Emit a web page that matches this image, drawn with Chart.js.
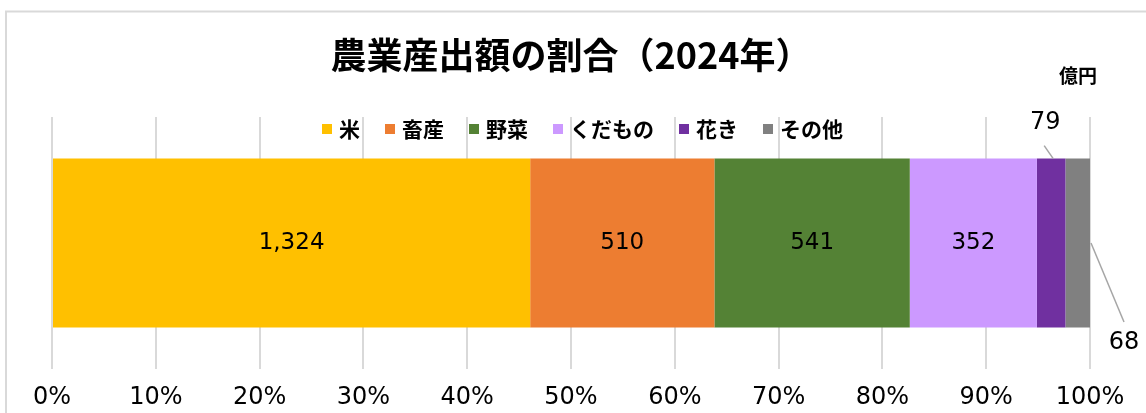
<!DOCTYPE html>
<html><head><meta charset="utf-8">
<script src="https://cdn.jsdelivr.net/npm/chart.js@4.4.1/dist/chart.umd.min.js"></script>
<style>html,body{margin:0;padding:0;background:#fff;overflow:hidden}#wrap{width:1146px;height:413px}</style>
</head><body><div id="wrap"><canvas id="c" width="1146" height="413"></canvas></div>
<script>
const categories = ['米', '畜産', '野菜', 'くだもの', '花き', 'その他'];
const values = [1324, 510, 541, 352, 79, 68];
const colors = ['#FFC000', '#ED7D31', '#548235', '#CC99FF', '#7030A0', '#808080'];
const tickValues = [0, 10, 20, 30, 40, 50, 60, 70, 80, 90, 100];
const titleText = '農業産出額の割合（2024年）';
const unitText = '億円';

const total = values.reduce((a, b) => a + b, 0);
const JP = '"Noto Sans CJK JP", "Noto Sans", sans-serif';
const NUM = '"DejaVu Sans", sans-serif';

const framePlugin = {
  id: 'frame',
  beforeDraw(chart) {
    const ctx = chart.ctx;
    ctx.save();
    ctx.fillStyle = '#fff';
    ctx.fillRect(0, 0, chart.width, chart.height);
    ctx.strokeStyle = '#d9d9d9';
    ctx.lineWidth = 2;
    ctx.beginPath();
    ctx.moveTo(6, chart.height);
    ctx.lineTo(6, 11.5);
    ctx.lineTo(chart.width, 11.5);
    ctx.stroke();
    ctx.restore();
  }
};

const labelPlugin = {
  id: 'labels',
  afterDraw(chart) {
    const ctx = chart.ctx;
    ctx.save();
    chart.data.datasets.forEach((ds, i) => {
      const bar = chart.getDatasetMeta(i).data[0];
      const cx = (bar.x + bar.base) / 2;
      const top = bar.y - bar.height / 2;
      const txt = values[i].toLocaleString('en-US');
      ctx.fillStyle = '#000';
      ctx.font = '23px ' + NUM;
      ctx.textAlign = 'center';
      ctx.textBaseline = 'middle';
      if (i < 4) {
        ctx.fillText(txt, cx, bar.y);
      } else if (i === 4) {
        ctx.strokeStyle = '#a6a6a6';
        ctx.lineWidth = 1.5;
        ctx.beginPath();
        ctx.moveTo(cx + 2, top);
        ctx.lineTo(cx - 7, top - 13);
        ctx.stroke();
        ctx.font = '24px ' + NUM;
        ctx.fillText(txt, cx - 6, top - 36);
      } else {
        ctx.strokeStyle = '#a6a6a6';
        ctx.lineWidth = 1.5;
        ctx.beginPath();
        ctx.moveTo(bar.x + 1, bar.y);
        ctx.lineTo(bar.x + 34, bar.y + 79);
        ctx.stroke();
        ctx.font = '24px ' + NUM;
        ctx.fillText(txt, bar.x + 34, bar.y + 100);
      }
    });
    ctx.font = 'bold 19px ' + JP;
    ctx.textAlign = 'center';
    ctx.textBaseline = 'middle';
    ctx.fillStyle = '#000';
    ctx.fillText(unitText, 1078, 76);
    ctx.font = 'bold 21px ' + JP;
    ctx.textAlign = 'left';
    const box = 10, gapBT = 7, gapItem = 25;
    let x = 322;
    const ly = 129;
    categories.forEach((c, i) => {
      ctx.fillStyle = colors[i];
      ctx.fillRect(x, ly - box / 2, box, box);
      x += box + gapBT;
      ctx.fillStyle = '#000';
      ctx.fillText(c, x, ly);
      x += ctx.measureText(c).width + gapItem;
    });
    ctx.restore();
  }
};

new Chart(document.getElementById('c'), {
  type: 'bar',
  data: {
    labels: [''],
    datasets: categories.map((c, i) => ({
      label: c,
      data: [values[i] / total * 100],
      backgroundColor: colors[i],
      borderWidth: 0,
      barPercentage: 0.67,
      categoryPercentage: 1
    }))
  },
  options: {
    indexAxis: 'y',
    responsive: false,
    animation: false,
    devicePixelRatio: 1,
    layout: { padding: { left: 52, right: 56, top: 0, bottom: 0 } },
    plugins: {
      legend: { display: false },
      tooltip: { enabled: false },
      title: {
        display: true,
        text: titleText,
        color: '#000',
        font: { family: JP, size: 36, weight: 'bold', lineHeight: 1.2 },
        padding: { top: 34, bottom: 39.8 }
      }
    },
    scales: {
      x: {
        stacked: true,
        min: 0,
        max: 100,
        afterBuildTicks: s => { s.ticks = tickValues.map(v => ({ value: v })); },
        afterFit: s => { s.height = 44; },
        ticks: {
          callback: v => v + '%',
          color: '#000',
          font: { family: NUM, size: 24 },
          padding: 14,
          maxRotation: 0,
          autoSkip: false
        },
        grid: { color: '#d9d9d9', lineWidth: 2, drawTicks: false },
        border: { display: false }
      },
      y: { stacked: true, display: false }
    }
  },
  plugins: [framePlugin, labelPlugin]
});
</script>
</body></html>
